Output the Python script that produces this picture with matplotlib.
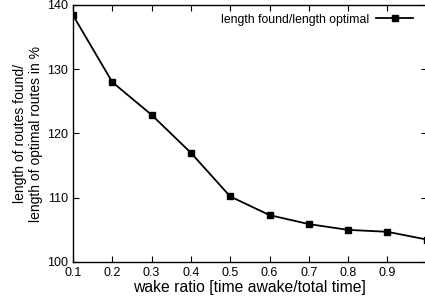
import matplotlib
matplotlib.use("Agg")
import matplotlib.pyplot as plt

plt.rcParams['font.family'] = ['Liberation Sans', 'DejaVu Sans']

# wake ratio vs. route length ratio
wake_ratio = [0.1, 0.2, 0.3, 0.4, 0.5, 0.6, 0.7, 0.8, 0.9, 1.0]
length_pct = [138.4, 128.0, 122.9, 117.0, 110.2, 107.3, 105.9, 105.0, 104.7, 103.5]
xtick_vals = [0.1, 0.2, 0.3, 0.4, 0.5, 0.6, 0.7, 0.8, 0.9]
ytick_vals = [100, 110, 120, 130, 140]

fig = plt.figure(figsize=(4.25, 3.07), dpi=100)
ax = fig.add_axes([73 / 425, 1 - 262 / 307, (426.7 - 73) / 425, (262 - 5) / 307])

ax.plot(wake_ratio, length_pct, color='black', lw=1.3, marker='s', ms=5,
        label='length found/length optimal')

ax.set_xlim(0.1, 1.0)
ax.set_ylim(100, 140)
ax.set_xticks(xtick_vals)
ax.set_xticklabels([str(v) for v in xtick_vals])
ax.set_yticks(ytick_vals)
ax.tick_params(direction='in', top=True, right=True, labelsize=9, length=4, width=0.8)
for s in ax.spines.values():
    s.set_linewidth(1.0)

ax.set_xlabel('wake ratio [time awake/total time]', fontsize=11.3, labelpad=1)
ax.set_ylabel('length of routes found/\nlength of optimal routes in %', fontsize=10, labelpad=3)

ax.legend(loc='upper right', frameon=False, fontsize=8.8, markerfirst=False,
          handlelength=3.0, handletextpad=0.6, borderaxespad=0.3,
          bbox_to_anchor=(0.985, 1.0))

fig.savefig('out.png', dpi=100)
